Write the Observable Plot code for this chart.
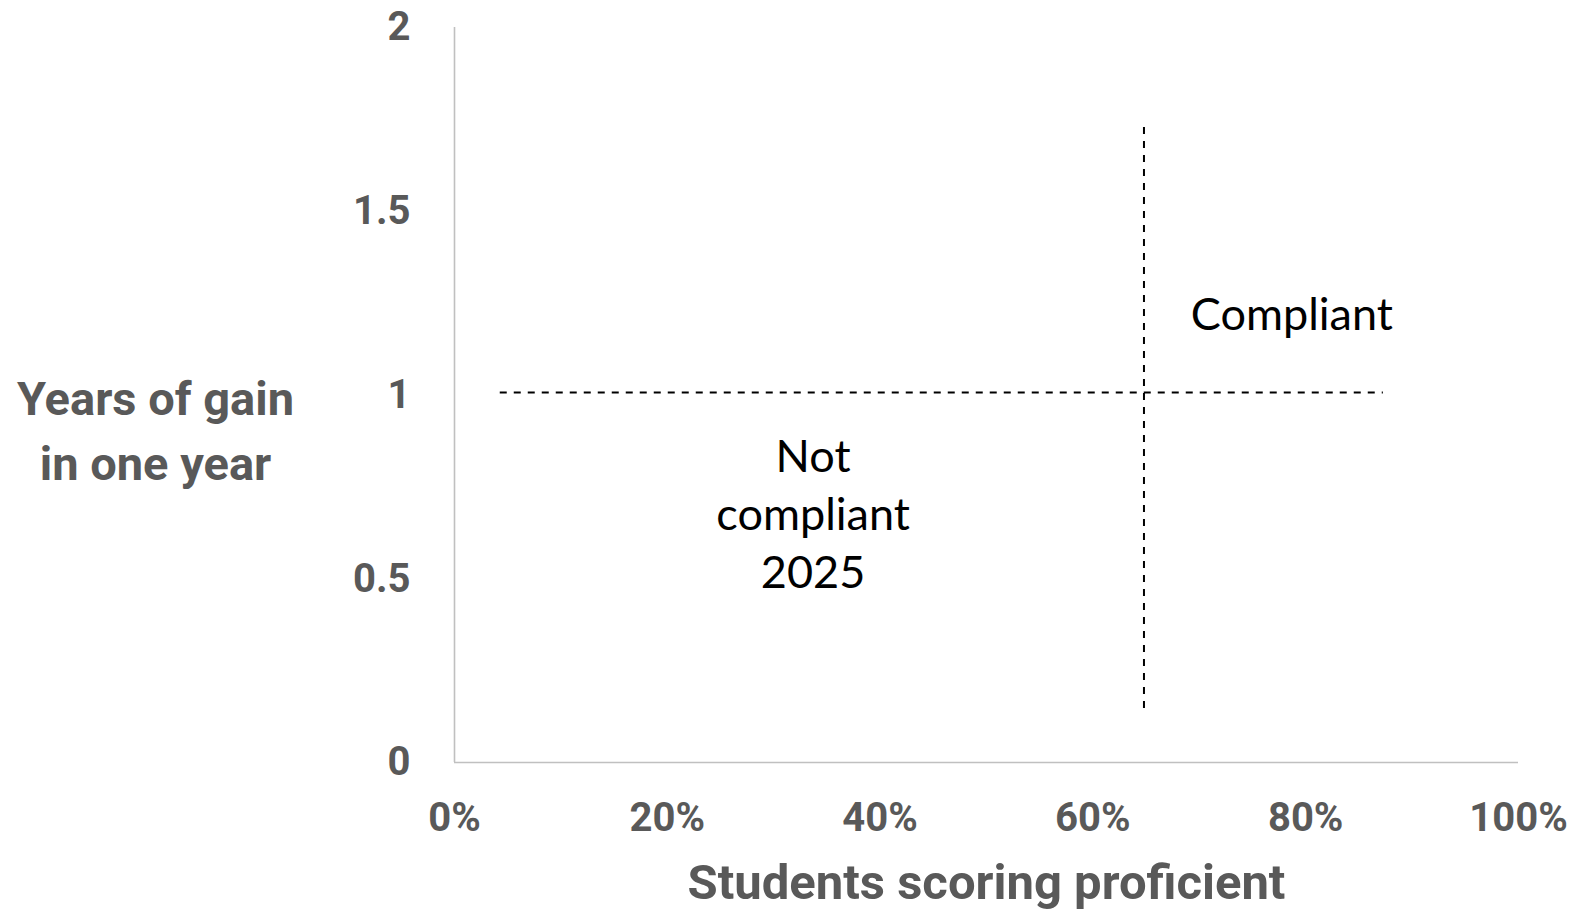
<!DOCTYPE html>
<html>
<head>
<meta charset="utf-8">
<script src="https://cdn.jsdelivr.net/npm/d3@7"></script>
<script src="https://cdn.jsdelivr.net/npm/@observablehq/plot@0.6"></script>
<style>
  html, body { margin: 0; padding: 0; background: #ffffff; }
  #chart { width: 1573px; height: 911px; }
</style>
</head>
<body>
<div id="chart"></div>
<script>
// Axis tick values
const xTicks = [0, 0.2, 0.4, 0.6, 0.8, 1.0];
const yTicks = [0, 0.5, 1, 1.5, 2];

// Threshold lines (data coordinates)
const hLine = [{x1: 0.043, x2: 0.873, y: 1.007}];
const vLine = [{x: 0.648, y1: 0.147, y2: 1.73}];

// Quadrant labels
const quadrantLabels = [
  {x: 0.787, y: 1.228, text: "Compliant"},
  {x: 0.337, y: 0.683, text: "Not\ncompliant\n2025"}
];

// Axis titles
const xTitle = "Students scoring proficient";
const yTitle = "Years of gain\nin one year";

const gray = "#595959";
const axisGray = "#c0c0c0";

const chart = Plot.plot({
  width: 1573,
  height: 911,
  marginLeft: 454,
  marginRight: 55,
  marginTop: 27,
  marginBottom: 149,
  style: {background: "#ffffff", overflow: "visible"},
  x: {domain: [0, 1]},
  y: {domain: [0, 2]},
  marks: [
    Plot.ruleX([0], {stroke: axisGray, strokeWidth: 1.6}),
    Plot.ruleY([0], {stroke: axisGray, strokeWidth: 1.6}),
    Plot.axisX(xTicks, {
      tickSize: 0, tickPadding: 56 - 20,
      tickFormat: d3.format(".0%"),
      fontFamily: "Roboto", fontWeight: "bold", fontSize: 40,
      fill: gray, label: null, textAnchor: "middle", lineAnchor: "middle", dy: 20
    }),
    Plot.axisY(yTicks, {
      tickSize: 0, tickPadding: 44,
      tickFormat: d => String(d),
      fontFamily: "Roboto", fontWeight: "bold", fontSize: 40,
      fill: gray, label: null
    }),
    Plot.ruleY(hLine, {x1: "x1", x2: "x2", y: "y", stroke: "#000", strokeWidth: 2, strokeDasharray: "7,7"}),
    Plot.ruleX(vLine, {x: "x", y1: "y1", y2: "y2", stroke: "#000", strokeWidth: 2, strokeDasharray: "7,7"}),
    Plot.text(quadrantLabels, {
      x: "x", y: "y", text: "text",
      fontFamily: "Lato", fontSize: 45, fill: "#000", lineHeight: 1.28
    }),
    Plot.text([yTitle], {
      frameAnchor: "left", text: d => d, dx: -299, dy: 32,
      fontFamily: "Roboto", fontWeight: "bold", fontSize: 47, fill: gray,
      textAnchor: "middle", lineHeight: 1.38
    }),
    Plot.text([xTitle], {
      frameAnchor: "bottom", text: d => d, dx: 986 - (454 + 1518) / 2, dy: 121,
      fontFamily: "Roboto", fontWeight: "bold", fontSize: 49, fill: gray,
      textAnchor: "middle", lineAnchor: "middle"
    })
  ]
});
document.getElementById("chart").appendChild(chart);
</script>
</body>
</html>
